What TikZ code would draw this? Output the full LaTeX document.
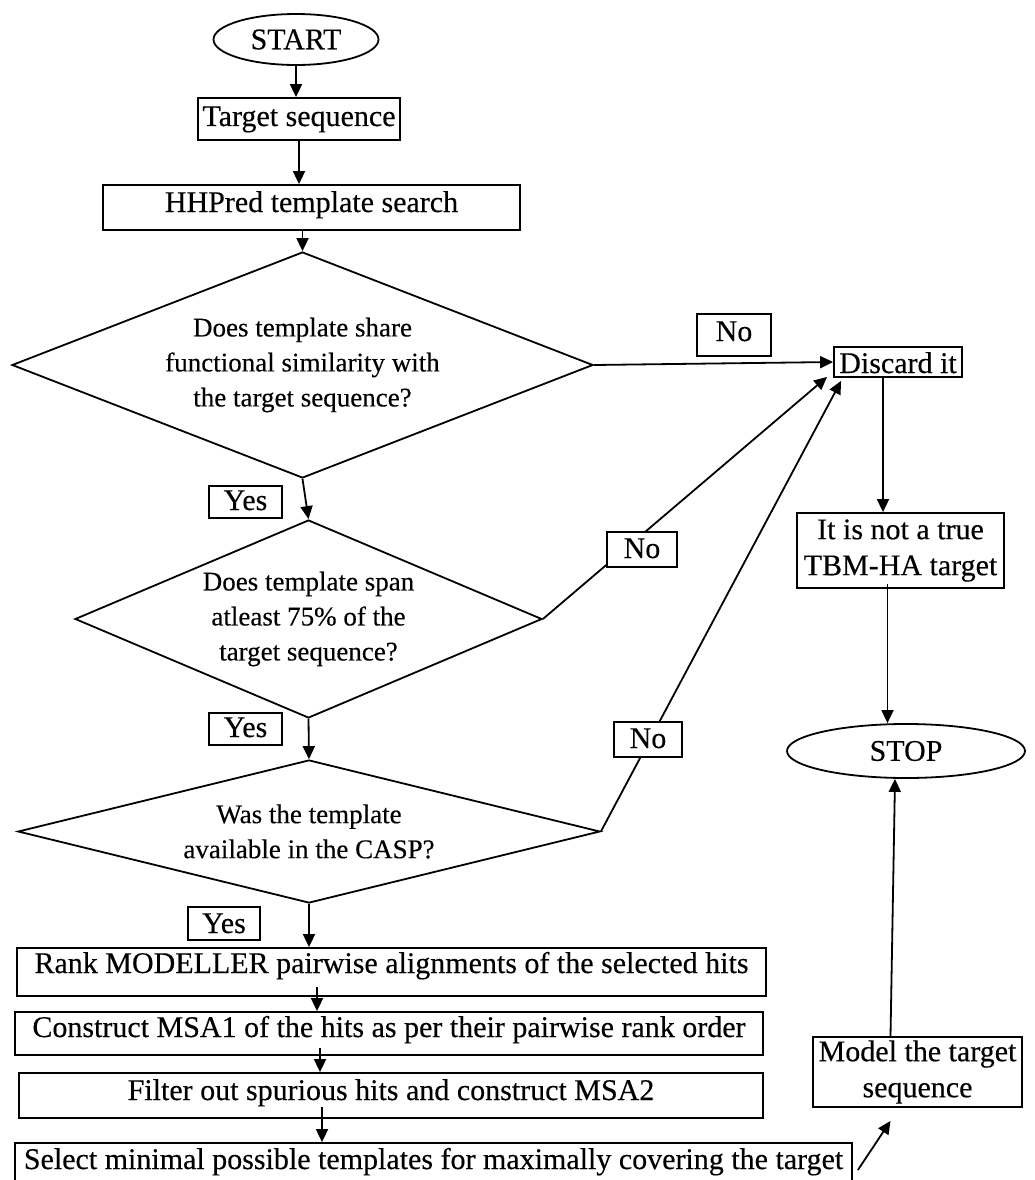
\documentclass[tikz,border=0pt]{standalone}
\usepackage{fontspec}
\setmainfont{Liberation Serif}
\newfontfamily\reffont{Liberation Serif}[FakeBold=0.3]
\usetikzlibrary{shapes.geometric,arrows.meta,calc}
\newcommand\bfnt{\reffont\fontsize{30}{36}\selectfont}
\newcommand\dfnt{\reffont\fontsize{27}{35}\selectfont}
\begin{document}
\begin{tikzpicture}[x=1pt,y=-1pt,
  box/.style={draw, line width=1.8pt, fill=white, inner sep=0pt, anchor=base, font=\bfnt},
  mbox/.style={draw, line width=1.8pt, fill=white, inner sep=0pt, align=center, font=\bfnt},
  ell/.style={ellipse, draw, line width=1.8pt, inner sep=0pt, font=\bfnt},
  dia/.style={diamond, draw, line width=1.8pt, inner sep=0pt},
  dlab/.style={font=\dfnt, align=center, inner sep=0pt},
  arr/.style={line width=1.8pt, -{Triangle[length=13pt,width=12pt]}}]
\useasboundingbox (0,0) rectangle (1035,1180);
\fill[white] (0,0) rectangle (1035,1180);
% main column
\node[ell, minimum width=165pt, minimum height=51pt] (start) at (296,39.5) {START};
\node[box, minimum width=202pt, text height=28pt, text depth=14pt] (target) at (299,126) {Target sequence};
\node[box, minimum width=417pt, text height=27pt, text depth=18pt] (hh) at (311.5,212) {HHPred template search};
\node[dia, minimum width=581pt, minimum height=226pt,
  label={[dlab]center:Does template share\\functional similarity with\\the target sequence?}] (d1) at (302.5,365) {};
\node[dia, minimum width=467pt, minimum height=198pt,
  label={[dlab]center:Does template span\\atleast 75\% of the\\target sequence?}] (d2) at (308.5,619) {};
\node[dia, minimum width=582pt, minimum height=143pt,
  label={[dlab]center:Was the template\\available in the CASP?}] (d3) at (309,831.5) {};
\node[box, minimum width=749pt, text height=25pt, text depth=23pt] (rank) at (391.5,973) {Rank MODELLER pairwise alignments of the selected hits};
\node[box, minimum width=748pt, text height=25pt, text depth=18pt] (msa1) at (389,1037) {Construct MSA1 of the hits as per their pairwise rank order};
\node[box, minimum width=744pt, text height=27pt, text depth=18pt] (msa2) at (391,1100) {Filter out spurious hits and construct MSA2};
\node[box, minimum width=837pt, text height=26pt, text depth=22pt] (sel) at (433.5,1169) {Select minimal possible templates for maximally covering the target};
% right column
\node[box, minimum width=128pt, text height=26pt, text depth=4pt] (disc) at (898,373) {Discard it};
\node[mbox, minimum width=207pt, minimum height=75pt] (tbm) at (900.5,550.5) {It is not a true\\TBM-HA target};
\node[ell, minimum width=238pt, minimum height=54pt] (stop) at (906,751) {STOP};
\node[mbox, minimum width=209pt, minimum height=70pt] (model) at (917.5,1072) {Model the target\\sequence};
% connectors
\draw[arr] (start.south) -- (start.south |- target.north);
\draw[arr] (target.south) -- (target.south |- hh.north);
\draw[arr] (d1.north |- hh.south) -- (d1.north);
\draw[arr] (d1.south) -- (d2.north);
\draw[arr] (d2.south) -- (d3.north);
\draw[arr] (d3.south) -- (d3.south |- rank.north);
\coordinate (a1) at (317,987);
\coordinate (a2) at (320,1048);
\coordinate (a3) at (322,1107);
\draw[arr] (a1) -- (a1 |- msa1.north);
\draw[arr] (a2) -- (a2 |- msa2.north);
\draw[arr] (a3) -- (a3 |- sel.north);
\draw[arr] (d1.east) -- (disc.west);
\draw[arr] (d2.east) -- ($(disc.south west)+(-6,-1)$);
\draw[arr] (d3.east) -- ($(disc.south west)+(8,3)$);
\draw[arr] ([xshift=-15pt]disc.south) -- ([xshift=-15pt]disc.south |- tbm.north);
\draw[arr] ([xshift=-13pt,yshift=5pt]tbm.south) -- ([xshift=-13pt]tbm.south |- stop.north);
\draw[arr] ([xshift=-27pt]model.north) -- ([xshift=-11pt]stop.south);
\draw[arr] ([xshift=5pt,yshift=-3pt]sel.east) -- ([xshift=-27pt,yshift=-13pt]model.south);
% labels
\node[box, minimum width=73pt, text height=24pt, text depth=8pt] (y1) at (245.5,510) {Yes};
\node[box, minimum width=73pt, text height=24pt, text depth=8pt] (y2) at (245.5,737) {Yes};
\node[box, minimum width=72pt, text height=26pt, text depth=7pt] (y3) at (224,933) {Yes};
\node[box, minimum width=74pt, text height=27pt, text depth=15pt] (n1) at (734,341) {No};
\node[box, minimum width=70pt, text height=26pt, text depth=9pt] (n2) at (642,558) {No};
\node[box, minimum width=68pt, text height=26pt, text depth=9pt] (n3) at (648,748) {No};
\end{tikzpicture}
\end{document}
